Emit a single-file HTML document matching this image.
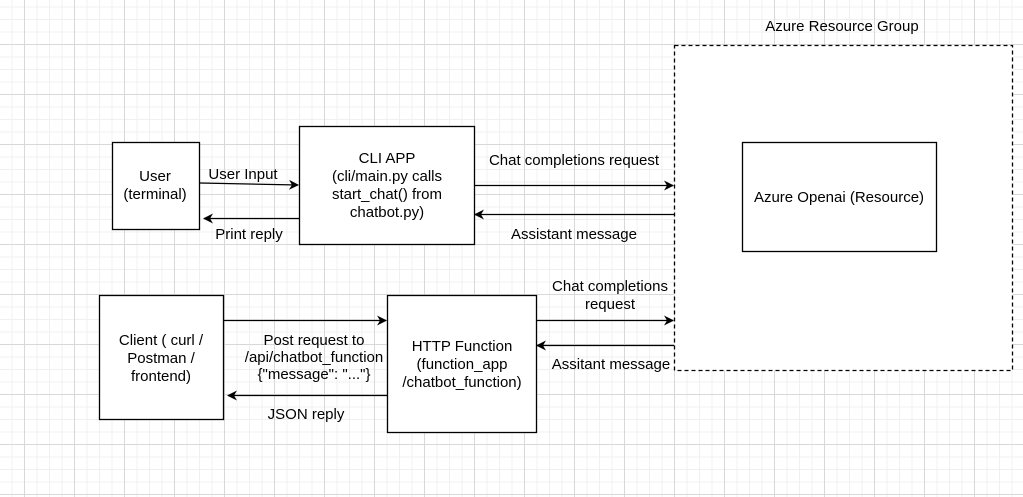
<!DOCTYPE html>
<html><head><meta charset="utf-8"><style>
html,body{margin:0;padding:0;background:#fff}
svg{display:block}
text{font-family:"Liberation Sans",Arial,sans-serif;font-size:15px;fill:#000}
</style></head><body>
<svg width="1023" height="497" viewBox="0 0 1023 497" xmlns="http://www.w3.org/2000/svg">
<defs>
<pattern id="minor" x="11.5" y="6.5" width="12.5" height="12.5" patternUnits="userSpaceOnUse">
<path d="M0.5 0V12.5M0 0.5H12.5" stroke="#f0f0f0" stroke-width="1" fill="none"/>
</pattern>
<pattern id="major" x="24" y="44" width="50" height="50" patternUnits="userSpaceOnUse">
<path d="M0.5 0V50M0 0.5H50" stroke="#d8d8d8" stroke-width="1" fill="none"/>
</pattern>
<marker id="ah" viewBox="0 0 10 10" refX="9" refY="5" markerWidth="10" markerHeight="10" markerUnits="userSpaceOnUse" orient="auto">
<path d="M0 0L10 5L0 10L3 5Z" fill="#000"/>
</marker>
</defs>
<rect width="1023" height="497" fill="#fff"/>
<rect width="1023" height="497" fill="url(#minor)"/>
<rect width="1023" height="497" fill="url(#major)"/>

<g fill="#fff" stroke="#000" stroke-width="1.3">
<rect x="674.5" y="45.5" width="338" height="325" stroke-dasharray="4 3"/>
<rect x="112.5" y="142.5" width="87" height="87"/>
<rect x="299.5" y="126.5" width="175" height="118"/>
<rect x="742.5" y="142.5" width="194" height="109"/>
<rect x="99.5" y="295.5" width="124" height="124"/>
<rect x="387.5" y="295.5" width="149" height="137"/>
</g>

<g stroke="#000" stroke-width="1.3" fill="none" marker-end="url(#ah)">
<path d="M199 183L298 185"/>
<path d="M299 218.5H204"/>
<path d="M474 185.5H673"/>
<path d="M674 214.5H475"/>
<path d="M223 320.5H386"/>
<path d="M387 395.5H228"/>
<path d="M536 320.5H673"/>
<path d="M674 345.5H537"/>
</g>

<g text-anchor="middle">
<text x="842" y="31">Azure Resource Group</text>
<text x="155" y="181">User</text>
<text x="155" y="199">(terminal)</text>
<text x="387" y="163">CLI APP</text>
<text x="387" y="181">(cli/main.py calls</text>
<text x="387" y="199">start_chat() from</text>
<text x="387" y="217">chatbot.py)</text>
<text x="839" y="202">Azure Openai (Resource)</text>
<text x="161" y="345">Client ( curl /</text>
<text x="161" y="363">Postman /</text>
<text x="161" y="381">frontend)</text>
<text x="462" y="351">HTTP Function</text>
<text x="462" y="369">(function_app</text>
<text x="462" y="387">/chatbot_function)</text>

<text x="243" y="179">User Input</text>
<text x="249" y="239">Print reply</text>
<text x="574" y="165">Chat completions request</text>
<text x="574" y="239">Assistant message</text>
<text x="314" y="345">Post request to</text>
<text x="314" y="362">/api/chatbot_function</text>
<text x="314" y="379">{"message": "..."}</text>
<text x="306" y="419">JSON reply</text>
<text x="610" y="291">Chat completions</text>
<text x="610" y="309">request</text>
<text x="611" y="369">Assitant message</text>
</g>
</svg>
</body></html>
